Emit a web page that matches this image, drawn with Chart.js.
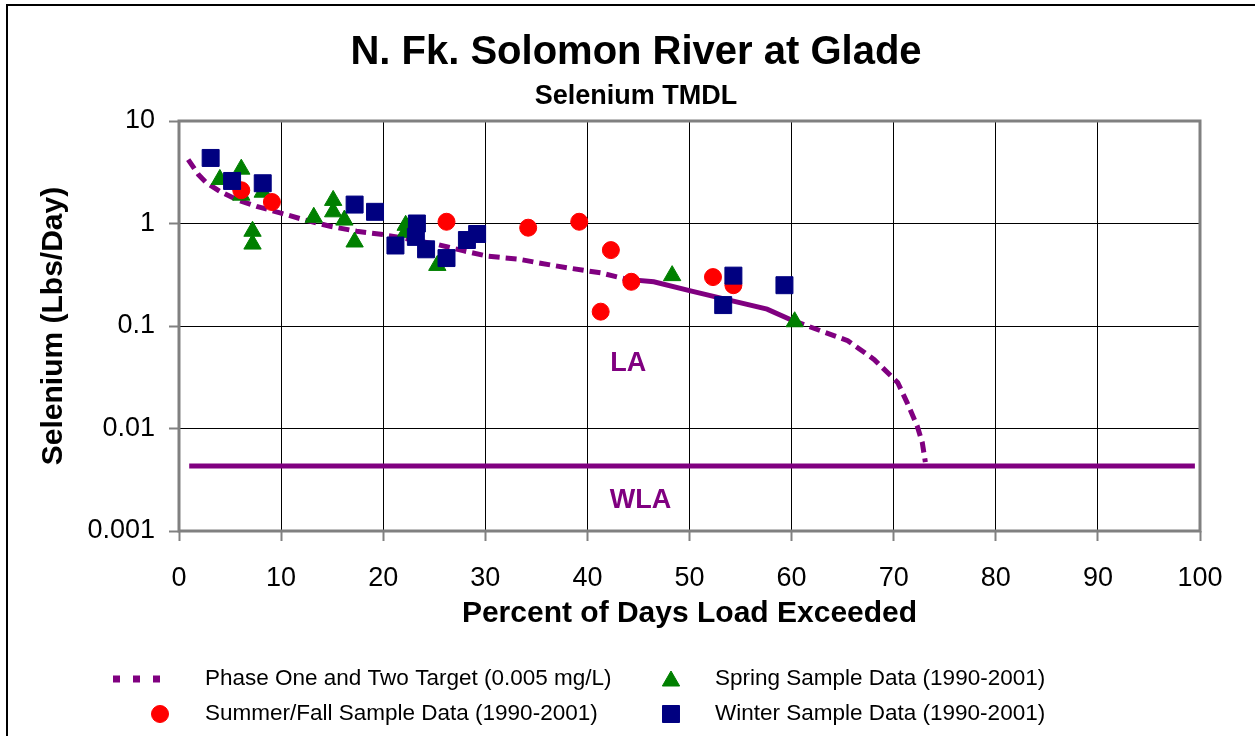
<!DOCTYPE html>
<html><head><meta charset="utf-8">
<script src="https://cdn.jsdelivr.net/npm/chart.js@4.4.1/dist/chart.umd.min.js"></script>
<style>html,body{margin:0;padding:0;background:#fff;overflow:hidden}#wrap{position:relative;width:1255px;height:736px}</style>
</head><body><div id="wrap"><canvas id="c" width="1255" height="736"></canvas></div>
<script>
const chartTitle = 'N. Fk. Solomon River at Glade';
const chartSubtitle = 'Selenium TMDL';
const xAxisTitle = 'Percent of Days Load Exceeded';
const yAxisTitle = 'Selenium (Lbs/Day)';
const xTickValues = [0,10,20,30,40,50,60,70,80,90,100];
const yTickValues = [0.001,0.01,0.1,1,10];
const seriesNames = ['Phase One and Two Target (0.005 mg/L)','Spring Sample Data (1990-2001)','Summer/Fall Sample Data (1990-2001)','Winter Sample Data (1990-2001)'];

const targetX = [0.9,1.9,2.7,4.0,5.65,7.6,9.9,12.2,14.8,17.4,20.0,22.6,25.3,27.9,30.2,33.2,35.4,38.0,41.3,43.9,46.5,50.1,54.3,57.6,60.2,65.5,68.1,70.4,71.3,72.3,72.8,73.1];
const targetY = [4.2,3.0,2.49,2.06,1.71,1.47,1.27,1.09,0.94,0.84,0.78,0.70,0.625,0.54,0.48,0.45,0.41,0.37,0.33,0.285,0.27,0.22,0.175,0.146,0.112,0.072,0.047,0.028,0.018,0.0106,0.0073,0.0047];
const wlaX = [1.0,99.5];
const wlaY = [0.0043,0.0043];

const springX = [4.0,6.1,6.1,8.2,7.2,7.2,13.2,15.1,15.1,16.2,17.2,22.2,22.2,25.3,48.3,60.3];
const springY = [2.69,3.39,1.89,2.02,0.84,0.63,1.15,1.68,1.30,1.08,0.66,0.96,0.82,0.39,0.31,0.11];
const summerX = [6.1,9.1,26.2,34.2,39.2,42.3,44.3,41.3,52.3,54.3];
const summerY = [2.11,1.62,1.04,0.91,1.04,0.55,0.27,0.138,0.30,0.25];
const winterX = [3.1,5.2,8.2,17.2,19.2,23.3,23.2,21.2,24.2,26.2,28.2,29.2,54.3,53.3,59.3];
const winterY = [4.36,2.6,2.47,1.53,1.30,1.0,0.74,0.61,0.56,0.46,0.69,0.79,0.31,0.16,0.25];

const noteText = ['LA','WLA'];
const noteX = [44.0,45.2];
const noteY = [0.043,0.002];

const PURPLE = '#800080', GREEN = '#008000', RED = '#FF0000', NAVY = '#000080';
const FONT = "'Liberation Sans', Arial, Helvetica, sans-serif";

const pts = (xs, ys) => xs.map((x, i) => ({x: x, y: ys[i]}));

const solidFrom = 43.8, solidTo = 61;

const decor = {
  id: 'decor',
  beforeDraw(chart) {
    const ctx = chart.ctx;
    ctx.save();
    ctx.fillStyle = '#fff';
    ctx.fillRect(0, 0, chart.width, chart.height);
    ctx.strokeStyle = '#000';
    ctx.lineWidth = 2;
    ctx.strokeRect(7, 5, chart.width + 20, chart.height + 20);
    ctx.restore();
  },
  beforeDatasetsDraw(chart) {
    const ctx = chart.ctx, a = chart.chartArea;
    ctx.save();
    ctx.strokeStyle = '#808080';
    ctx.lineWidth = 3;
    ctx.strokeRect(a.left, a.top, a.right - a.left, a.bottom - a.top);
    ctx.restore();
  },
  afterDraw(chart) {
    const ctx = chart.ctx;
    const xs = chart.scales.x, ys = chart.scales.y;
    ctx.save();
    ctx.fillStyle = '#000';
    ctx.textAlign = 'center';
    ctx.textBaseline = 'middle';
    ctx.font = "bold 40px " + FONT;
    ctx.fillText(chartTitle, 636, 53);
    ctx.font = "bold 27px " + FONT;
    ctx.fillText(chartSubtitle, 636, 97);
    ctx.fillStyle = PURPLE;
    ctx.font = "bold 27px " + FONT;
    noteText.forEach((t, i) => ctx.fillText(t, xs.getPixelForValue(noteX[i]), ys.getPixelForValue(noteY[i])));
    ctx.textAlign = 'left';
    ctx.fillStyle = '#000';
    ctx.font = "22.5px " + FONT;
    const r1 = 679, r2 = 714, c1 = 205, c2 = 715;
    ctx.fillText(seriesNames[0], c1, r1);
    ctx.fillText(seriesNames[1], c2, r1);
    ctx.fillText(seriesNames[2], c1, r2);
    ctx.fillText(seriesNames[3], c2, r2);
    ctx.strokeStyle = PURPLE;
    ctx.lineWidth = 7;
    ctx.setLineDash([7, 13]);
    ctx.beginPath(); ctx.moveTo(113, r1); ctx.lineTo(170, r1); ctx.stroke();
    ctx.setLineDash([]);
    ctx.lineWidth = 1;
    ctx.fillStyle = GREEN; ctx.strokeStyle = GREEN;
    Chart.helpers.drawPoint(ctx, {pointStyle: 'triangle', radius: 10, borderWidth: 1, rotation: 0}, 671, r1 + 2);
    ctx.fillStyle = RED; ctx.strokeStyle = RED;
    Chart.helpers.drawPoint(ctx, {pointStyle: 'circle', radius: 8.5, borderWidth: 1, rotation: 0}, 160, r2);
    ctx.fillStyle = NAVY; ctx.strokeStyle = NAVY;
    Chart.helpers.drawPoint(ctx, {pointStyle: 'rect', radius: 12, borderWidth: 1, rotation: 0}, 671, r2);
    ctx.restore();
  }
};

new Chart(document.getElementById('c'), {
  type: 'scatter',
  data: {
    datasets: [
      {
        label: seriesNames[0], data: pts(targetX, targetY), showLine: true, order: 10,
        borderColor: PURPLE, backgroundColor: PURPLE, borderWidth: 5, borderDash: [11, 6],
        borderCapStyle: 'butt', pointRadius: 0, tension: 0,
        segment: {
          borderDash: c => (c.p0.parsed.x >= solidFrom && c.p1.parsed.x <= solidTo) ? [] : [11, 6]
        }
      },
      {
        label: 'WLA', data: pts(wlaX, wlaY), showLine: true, order: 9,
        borderColor: PURPLE, backgroundColor: PURPLE, borderWidth: 5, pointRadius: 0
      },
      {
        label: seriesNames[1], data: pts(springX, springY), order: 3,
        pointStyle: 'triangle', pointRadius: 10, pointHoverRadius: 10,
        backgroundColor: GREEN, borderColor: GREEN, borderWidth: 1
      },
      {
        label: seriesNames[2], data: pts(summerX, summerY), order: 2,
        pointStyle: 'circle', pointRadius: 8.5, pointHoverRadius: 8.5,
        backgroundColor: RED, borderColor: RED, borderWidth: 1
      },
      {
        label: seriesNames[3], data: pts(winterX, winterY), order: 1,
        pointStyle: 'rect', pointRadius: 12, pointHoverRadius: 12,
        backgroundColor: NAVY, borderColor: NAVY, borderWidth: 1
      }
    ]
  },
  options: {
    responsive: false,
    animation: false,
    events: [],
    layout: { padding: { top: 121, right: 55, bottom: 0, left: 0 } },
    plugins: { legend: { display: false }, title: { display: false }, tooltip: { enabled: false } },
    scales: {
      x: {
        type: 'linear', min: 0, max: 100,
        afterBuildTicks: s => { s.ticks = xTickValues.map(v => ({value: v})); },
        afterFit: s => { s.height = 205; },
        border: { display: false },
        grid: { color: '#000', lineWidth: 1, tickLength: 10, drawTicks: true, tickColor: '#808080', tickWidth: 2 },
        ticks: { color: '#000', padding: 21, font: { family: FONT, size: 27 }, maxRotation: 0 },
        title: { display: true, text: xAxisTitle, color: '#000', font: { family: FONT, size: 30, weight: 'bold' }, padding: { top: 0, bottom: 104 } }
      },
      y: {
        type: 'logarithmic', min: 0.001, max: 10,
        afterBuildTicks: s => { s.ticks = yTickValues.map(v => ({value: v})); },
        afterFit: s => { s.width = 179; },
        border: { display: false },
        grid: { color: '#000', lineWidth: 1, tickLength: 10, drawTicks: true, tickColor: '#808080', tickWidth: 2 },
        ticks: { color: '#000', padding: 14, font: { family: FONT, size: 27 }, callback: v => String(v) },
        title: { display: true, text: yAxisTitle, color: '#000', font: { family: FONT, size: 30, weight: 'bold' }, padding: { top: 36, bottom: 0 } }
      }
    }
  },
  plugins: [decor]
});
</script>
</body></html>
